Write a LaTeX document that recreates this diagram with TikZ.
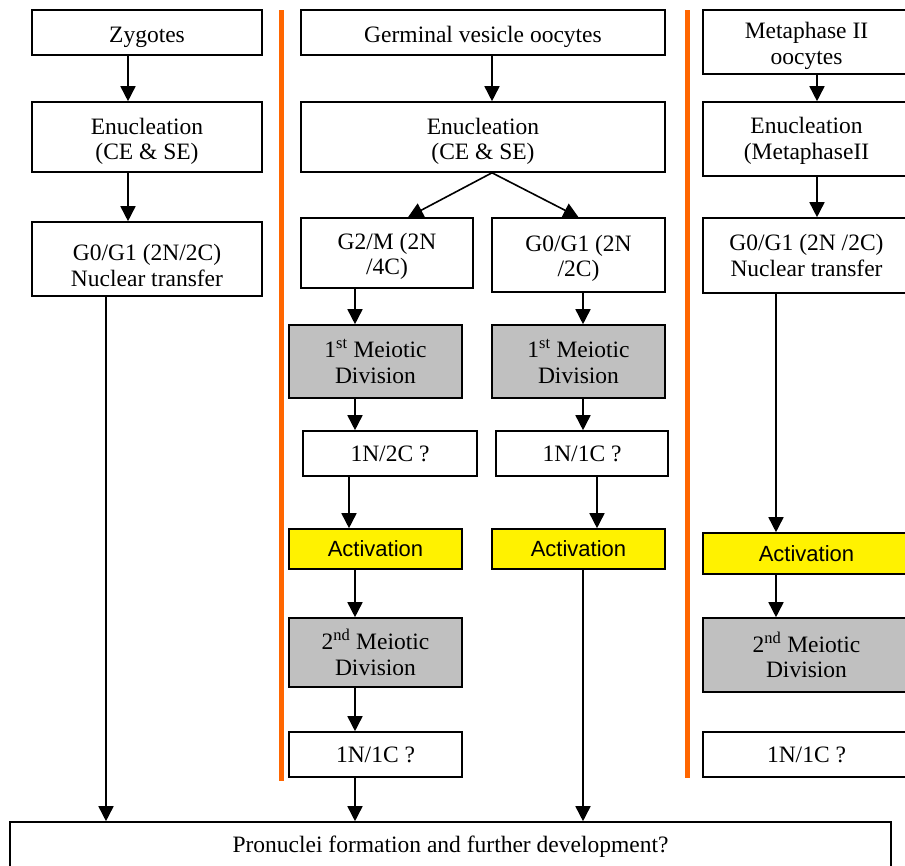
\documentclass[tikz,border=0pt]{standalone}
\usepackage{fontspec}
\setmainfont{Liberation Serif}
\setsansfont{Liberation Sans}
\usetikzlibrary{arrows.meta}
\definecolor{divgrey}{HTML}{C0C0C0}
\definecolor{splitorange}{HTML}{FF6600}
\newcommand{\boxpad}[1]{\rule{0pt}{#1}}

\begin{document}
\begin{tikzpicture}[x=1pt, y=-1pt,
    box/.style={draw, line width=1.6pt, fill=white, align=center, inner sep=0pt,
      font=\fontsize{23.5}{25.5}\selectfont},
    greybox/.style={box, fill=divgrey},
    actbox/.style={box, fill=yellow, font=\sffamily\fontsize{22}{25}\selectfont},
    arr/.style={-{Triangle[width=15pt,length=15pt]}, line width=1.6pt},
    divider/.style={draw=splitorange, line width=5pt}]
    \useasboundingbox (0,0) rectangle (905,865);
    \clip (0,0) rectangle (905,865);

    % zygotes column
    \node[box, minimum width=230pt, minimum height=45pt] (zyg) at (147,32.5)
      {\boxpad{25.5pt}Zygotes};
    \node[box, minimum width=230pt, minimum height=70pt] (zenu) at (147,137)
      {\boxpad{24.5pt}Enucleation\\(CE \& SE)};
    \node[box, minimum width=230pt, minimum height=74pt] (znt) at (147,259)
      {\boxpad{29pt}G0/G1 (2N/2C)\\Nuclear transfer};

    % germinal vesicle column
    \node[box, minimum width=364pt, minimum height=45pt] (gv) at (483,32.5)
      {\boxpad{25.5pt}Germinal vesicle oocytes};
    \node[box, minimum width=364pt, minimum height=70pt] (genu) at (483,137)
      {\boxpad{24.5pt}Enucleation\\(CE \& SE)};
    \node[box, minimum width=172pt, minimum height=70pt] (g2m) at (387,253)
      {\boxpad{22.5pt}G2/M (2N\\/4C)};
    \node[box, minimum width=173pt, minimum height=74pt] (g01) at (578.5,255)
      {\boxpad{22.5pt}G0/G1 (2N\\/2C)};
    \node[greybox, minimum width=173pt, minimum height=73pt] (m1a) at (375.5,361.5)
      {1\textsuperscript{st} Meiotic\\Division};
    \node[greybox, minimum width=173pt, minimum height=73pt] (m1b) at (578.5,361.5)
      {1\textsuperscript{st} Meiotic\\Division};
    \node[box, minimum width=174pt, minimum height=45pt] (n2c) at (390,453.5) {1N/2C ?};
    \node[box, minimum width=172pt, minimum height=45pt] (n1c) at (582,453.5) {1N/1C ?};
    \node[actbox, minimum width=173pt, minimum height=40pt] (acta) at (375.5,549) {Activation};
    \node[actbox, minimum width=173pt, minimum height=40pt] (actb) at (578.5,549) {Activation};
    \node[greybox, minimum width=173pt, minimum height=69pt] (m2a) at (375.5,652.5)
      {2\textsuperscript{nd} Meiotic\\Division};
    \node[box, minimum width=173pt, minimum height=45pt] (n1a) at (375.5,754.5) {1N/1C ?};

    % metaphase II column
    \node[box, minimum width=207pt, minimum height=64pt] (mii) at (806.5,42)
      {\boxpad{24.5pt}Metaphase II\\oocytes};
    \node[box, minimum width=207pt, minimum height=74pt] (renu) at (806.5,139)
      {\boxpad{20pt}Enucleation\\(MetaphaseII};
    \node[box, minimum width=207pt, minimum height=75pt] (rnt) at (806.5,255.5)
      {G0/G1 (2N /2C)\\Nuclear transfer};
    \node[actbox, minimum width=207pt, minimum height=41pt] (ract) at (806.5,553.5) {Activation};
    \node[greybox, minimum width=207pt, minimum height=74pt] (rm2) at (806.5,655)
      {2\textsuperscript{nd} Meiotic\\Division};
    \node[box, minimum width=207pt, minimum height=45pt] (rn1) at (806.5,754.5) {1N/1C ?};

    % common outcome
    \node[box, minimum width=881pt, minimum height=50pt] (pn) at (450.5,847)
      {Pronuclei formation and further development?};

    % separators
    \draw[divider] (281,10) -- (281,781);
    \draw[divider] (687,10) -- (687,778);

    % arrows
    \draw[arr] ([xshift=-19pt]zyg.south) -- ([xshift=-19pt]zenu.north);
    \draw[arr] ([xshift=-19pt]zenu.south) -- ([xshift=-19pt]znt.north);
    \draw[arr] ([xshift=-41pt]znt.south) -- ([xshift=-344.5pt]pn.north);

    \draw[arr] ([xshift=9pt]gv.south) -- ([xshift=9pt]genu.north);
    \draw[arr] ([xshift=9pt]genu.south) -- ([xshift=21pt]g2m.north);
    \draw[arr] ([xshift=9pt]genu.south) -- (g01.north);
    \draw[arr] ([xshift=-32pt]g2m.south) -- ([xshift=-20.5pt]m1a.north);
    \draw[arr] ([xshift=4.5pt]g01.south) -- ([xshift=4.5pt]m1b.north);
    \draw[arr] ([xshift=-20.5pt]m1a.south) -- ([xshift=-35pt]n2c.north);
    \draw[arr] ([xshift=4.5pt]m1b.south) -- ([xshift=1pt]n1c.north);
    \draw[arr] ([xshift=-41pt]n2c.south) -- ([xshift=-26.5pt]acta.north);
    \draw[arr] ([xshift=15pt]n1c.south) -- ([xshift=18.5pt]actb.north);
    \draw[arr] ([xshift=-20.5pt]acta.south) -- ([xshift=-20.5pt]m2a.north);
    \draw[arr] ([xshift=4.5pt]actb.south) -- ([xshift=132.5pt]pn.north);
    \draw[arr] ([xshift=-20.5pt]m2a.south) -- ([xshift=-20.5pt]n1a.north);
    \draw[arr] ([xshift=-20.5pt]n1a.south) -- ([xshift=-95.5pt]pn.north);

    \draw[arr] ([xshift=10.5pt]mii.south) -- ([xshift=10.5pt]renu.north);
    \draw[arr] ([xshift=10.5pt]renu.south) -- ([xshift=10.5pt]rnt.north);
    \draw[arr] ([xshift=-30.5pt]rnt.south) -- ([xshift=-30.5pt]ract.north);
    \draw[arr] ([xshift=-30.5pt]ract.south) -- ([xshift=-30.5pt]rm2.north);
  \end{tikzpicture}
\end{document}
